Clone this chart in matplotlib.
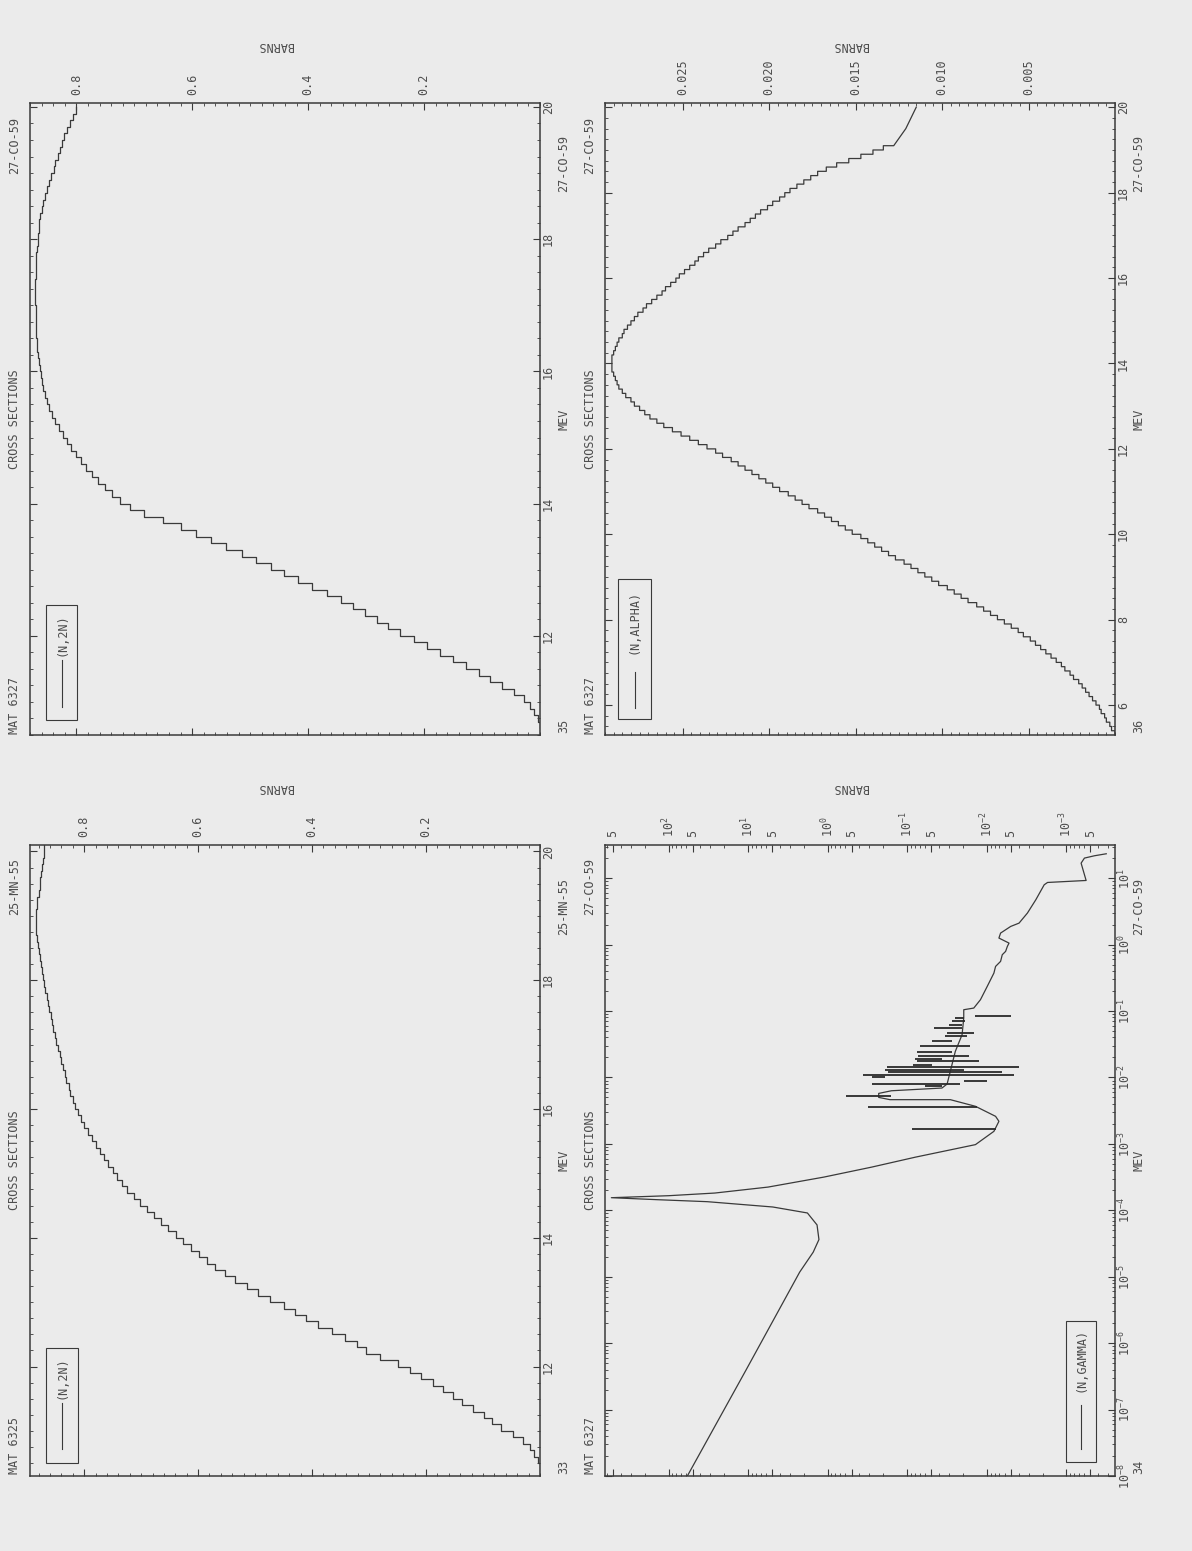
import numpy as np
import matplotlib
matplotlib.use("Agg")
import matplotlib.pyplot as plt
from matplotlib.ticker import FixedLocator, MultipleLocator, FuncFormatter, NullFormatter, LogLocator, FormatStrFormatter
from matplotlib.patches import Rectangle
from matplotlib.lines import Line2D

plt.rcParams['font.family'] = ['DejaVu Sans Mono']
plt.rcParams['mathtext.fontset'] = 'custom'
plt.rcParams['mathtext.rm'] = 'DejaVu Sans Mono'
plt.rcParams['mathtext.it'] = 'DejaVu Sans Mono'

W, H = 1192, 1551
PAPER = '#ebebeb'
INK = '#3a3a3a'
TXT = '#4d4d4d'
FS = 8.5

# ---- data (energies in MeV, cross sections in barns) ----
# group width of the stepped curves
GW = 0.1

# Co-59 (n,2n), groups starting at 10.6 MeV
co_2n_e0 = 10.6
co_2n = [0.0, 0.003, 0.010, 0.018, 0.027, 0.045, 0.065, 0.086, 0.106, 0.128,
         0.150, 0.172, 0.195, 0.218, 0.242, 0.262, 0.282, 0.302, 0.322, 0.344,
         0.368, 0.393, 0.418, 0.442, 0.465, 0.490, 0.515, 0.542, 0.568, 0.594,
         0.620, 0.650, 0.684, 0.708, 0.724, 0.738, 0.750, 0.762, 0.773, 0.783,
         0.792, 0.801, 0.809, 0.816, 0.823, 0.830, 0.836, 0.842, 0.847, 0.851,
         0.854, 0.857, 0.859, 0.861, 0.863, 0.865, 0.867, 0.868, 0.868, 0.869,
         0.869, 0.870, 0.870, 0.870, 0.871, 0.871, 0.871, 0.871, 0.870, 0.870,
         0.869, 0.869, 0.868, 0.867, 0.866, 0.865, 0.864, 0.862, 0.860, 0.857,
         0.854, 0.850, 0.847, 0.843, 0.839, 0.836, 0.832, 0.829, 0.825, 0.821,
         0.816, 0.811, 0.806, 0.801]

# Mn-55 (n,2n), groups starting at 10.3 MeV
mn_2n_e0 = 10.3
mn_2n = [0.0, 0.0, 0.003, 0.010, 0.018, 0.030, 0.047, 0.068, 0.085, 0.098,
         0.118, 0.137, 0.153, 0.170, 0.188, 0.208, 0.228, 0.250, 0.280, 0.305,
         0.322, 0.342, 0.365, 0.390, 0.410, 0.430, 0.450, 0.473, 0.495, 0.515,
         0.535, 0.553, 0.570, 0.585, 0.599, 0.613, 0.626, 0.639, 0.652, 0.665,
         0.677, 0.690, 0.702, 0.713, 0.724, 0.734, 0.742, 0.750, 0.758, 0.765,
         0.773, 0.780, 0.787, 0.794, 0.800, 0.806, 0.811, 0.816, 0.820, 0.824,
         0.827, 0.831, 0.834, 0.837, 0.840, 0.843, 0.846, 0.849, 0.852, 0.855,
         0.857, 0.859, 0.862, 0.864, 0.866, 0.868, 0.870, 0.872, 0.874, 0.876,
         0.878, 0.880, 0.881, 0.883, 0.884, 0.884, 0.884, 0.884, 0.883, 0.882,
         0.880, 0.878, 0.877, 0.875, 0.874, 0.872, 0.871, 0.870]

# Co-59 (n,alpha), groups starting at 5.3 MeV, then a smooth tail to 20 MeV
alpha_e0 = 5.3
alpha = [0.0000, 0.0002, 0.0003, 0.0005, 0.0006, 0.0008, 0.0009, 0.0011, 0.0013, 0.0015,
         0.0017, 0.0019, 0.0021, 0.0024, 0.0026, 0.0029, 0.0031, 0.0034, 0.0037, 0.0040,
         0.0043, 0.0046, 0.0049, 0.0053, 0.0056, 0.0060, 0.0064, 0.0068, 0.0072, 0.0076,
         0.0080, 0.0085, 0.0089, 0.0093, 0.0097, 0.0102, 0.0106, 0.0110, 0.0114, 0.0118,
         0.0122, 0.0127, 0.0131, 0.0135, 0.0139, 0.0143, 0.0147, 0.0152, 0.0156, 0.0160,
         0.0164, 0.0168, 0.0172, 0.0177, 0.0181, 0.0185, 0.0189, 0.0194, 0.0198, 0.0202,
         0.0206, 0.0210, 0.0214, 0.0218, 0.0222, 0.0227, 0.0231, 0.0236, 0.0241, 0.0246,
         0.0251, 0.0256, 0.0261, 0.0265, 0.0269, 0.0272, 0.0275, 0.0278, 0.0280, 0.0283,
         0.0285, 0.0287, 0.0288, 0.0289, 0.0290, 0.0291, 0.0291, 0.0291, 0.0291, 0.0290,
         0.0289, 0.0288, 0.0287, 0.0285, 0.0284, 0.0282, 0.0280, 0.0278, 0.0276, 0.0273,
         0.0271, 0.0268, 0.0265, 0.0262, 0.0260, 0.0257, 0.0254, 0.0252, 0.0249, 0.0246,
         0.0243, 0.0241, 0.0238, 0.0235, 0.0231, 0.0228, 0.0224, 0.0221, 0.0218, 0.0214,
         0.0211, 0.0208, 0.0205, 0.0201, 0.0198, 0.0194, 0.0191, 0.0188, 0.0184, 0.0180,
         0.0176, 0.0172, 0.0167, 0.0161, 0.0154, 0.0147, 0.0140, 0.0134]
alpha_tail_e = [19.1, 19.5, 20.0]
alpha_tail = [0.0128, 0.0121, 0.0115]

# Co-59 (n,gamma): log10(E/MeV), log10(sigma/b) of the smooth part
gam_loge = [-8.0, -6.41, -4.93, -4.63, -4.44, -4.22, -4.04, -3.95, -3.87, -3.84,
            -3.81, -3.78, -3.74, -3.65, -3.5, -3.35, -3.2, -3.1, -3.011, -2.811,
            -2.66, -2.585, -2.434, -2.334, -2.334, -2.30, -2.24, -2.20, -2.159, -2.098,
            -1.807, -1.607, -1.356, -1.105, -0.98, -0.955, -0.829, -0.629, -0.428, -0.328,
            -0.252, -0.152, -0.102, -0.027, 0.023, 0.099, 0.174, 0.274, 0.324, 0.475,
            0.676, 0.901, 0.936, 0.966, 1.227, 1.303, 1.338, 1.368]
gam_logs = [1.765, 1.03, 0.353, 0.183, 0.111, 0.135, 0.256, 0.691, 1.514, 2.143,
            2.72, 2.0, 1.42, 0.75, 0.05, -0.55, -1.1, -1.5, -1.856, -2.088,
            -2.151, -2.109, -1.856, -1.54, -0.781, -0.64, -0.64, -0.80, -1.435, -1.50,
            -1.561, -1.603, -1.688, -1.709, -1.709, -1.835, -1.919, -2.004, -2.088, -2.109,
            -2.172, -2.193, -2.235, -2.257, -2.278, -2.151, -2.172, -2.299, -2.404, -2.509,
            -2.615, -2.72, -2.762, -3.247, -3.184, -3.226, -3.352, -3.5]
# resolved resonances: log10 E, log10 sigma at peak, log10 sigma at low end
res_loge = [-1.070, -1.105, -1.155, -1.205, -1.256, -1.331, -1.381, -1.456, -1.531, -1.622,
            -1.672, -1.717, -1.757, -1.807, -1.848, -1.883, -1.918, -1.968, -1.998, -2.048,
            -2.098, -2.133, -2.274, -2.45, -2.77]
res_peak = [-1.856, -1.603, -1.561, -1.519, -1.329, -1.498, -1.477, -1.308, -1.161, -1.119,
            -1.14, -1.098, -1.119, -1.076, -0.739, -0.718, -0.760, -0.444, -0.55, -1.709,
            -0.55, -1.224, -0.234, -0.508, -1.055]
res_low = [-2.298, -1.709, -1.73, -1.688, -1.688, -1.835, -1.75, -1.561, -1.793, -1.561,
           -1.772, -1.435, -1.898, -1.308, -2.404, -1.709, -2.193, -2.341, -0.718, -2.004,
           -1.666, -1.435, -0.794, -1.877, -2.109]

fig = plt.figure(figsize=(W / 100, H / 100), dpi=100, facecolor=PAPER)


def put(x, y, s, rot=90):
    fig.text(x / W, 1 - y / H, s, rotation=rot, ha='center', va='center',
             fontsize=FS, color=TXT)


def add_panel(box):
    x0, y0, x1, y1 = box
    ax = fig.add_axes([x0 / W, 1 - y1 / H, (x1 - x0) / W, (y1 - y0) / H])
    ax.set_facecolor(PAPER)
    for s in ax.spines.values():
        s.set_linewidth(1.1)
        s.set_color(INK)
    ax.tick_params(which='both', direction='in', top=True, bottom=True, left=True, right=True,
                   labeltop=True, labelbottom=False, labelleft=False, labelright=True,
                   color=INK, labelcolor=TXT, labelsize=FS)
    ax.tick_params(which='major', length=5, width=0.8)
    ax.tick_params(which='minor', length=2.5, width=0.6)
    ax.tick_params(axis='x', labelrotation=90, pad=5.5)
    ax.tick_params(axis='y', labelrotation=90, pad=1.5)
    return ax


def fix_labels(ax):
    plt.setp(ax.get_yticklabels(), va='center')


def side_texts(box, tag, mat, num):
    x0, y0, x1, y1 = box
    put(x0 - 15, y0 + 42, tag)
    put(x0 - 15, (y0 + y1) / 2, 'CROSS SECTIONS')
    put(x0 - 15, y1 - 30, mat)
    put(x1 + 24, y0 + 61, tag)
    put(x1 + 24, (y0 + y1) / 2, 'MEV')
    put(x1 + 24, y1 - 9, num)
    put((x0 + x1) / 2 - 10, y0 - 57, 'BARNS', rot=180)


def legend_box(bx0, by0, bx1, by1, label, ty, ly0, ly1):
    fig.add_artist(Rectangle((bx0 / W, 1 - by1 / H), (bx1 - bx0) / W, (by1 - by0) / H,
                             transform=fig.transFigure, fill=False, ec=INK, lw=0.8))
    cx = (bx0 + bx1) / 2
    fig.add_artist(Line2D([cx / W, cx / W], [1 - ly0 / H, 1 - ly1 / H],
                          transform=fig.transFigure, color=INK, lw=0.8))
    put(cx, ty, label)


def step_path(e0, vals, width=GW):
    # vertical runs at each group value, horizontal jumps at group edges
    vals = np.asarray(vals)
    edges = e0 + width * np.arange(len(vals) + 1)
    return np.repeat(vals, 2), np.repeat(edges, 2)[1:-1]


def linear_panel(box, xs, ys, smax, emin, emax, sig_major, sig_minor, fmt, e_major):
    ax = add_panel(box)
    ax.plot(xs, ys, color=INK, lw=0.9)
    ax.set_xlim(smax, 0)
    ax.set_ylim(emin, emax)
    ax.xaxis.set_major_locator(FixedLocator(sig_major))
    ax.xaxis.set_minor_locator(MultipleLocator(sig_minor))
    ax.xaxis.set_major_formatter(FormatStrFormatter(fmt))
    ax.yaxis.set_major_locator(FixedLocator(e_major))
    ax.yaxis.set_minor_locator(MultipleLocator(0.25))
    ax.yaxis.set_major_formatter(FormatStrFormatter('%d'))
    fix_labels(ax)
    return ax


TL = (30, 103, 540, 735)
TR = (605, 103, 1115, 735)
BL = (30, 845, 540, 1476)
BR = (605, 845, 1115, 1476)

# Co-59 (n,2n)
xs, ys = step_path(co_2n_e0, co_2n)
linear_panel(TL, xs, ys, 0.88, 10.5, 20.06, [0.2, 0.4, 0.6, 0.8], 0.02, '%.1f',
             [12, 14, 16, 18, 20])
side_texts(TL, '27-CO-59', 'MAT 6327', '35')
legend_box(46, 605, 77, 720, '(N,2N)', 635, 660, 707)

# Mn-55 (n,2n)
xs, ys = step_path(mn_2n_e0, mn_2n)
linear_panel(BL, xs, ys, 0.895, 10.3, 20.1, [0.2, 0.4, 0.6, 0.8], 0.02, '%.1f',
             [12, 14, 16, 18, 20])
side_texts(BL, '25-MN-55', 'MAT 6325', '33')
legend_box(46, 1348, 78, 1463, '(N,2N)', 1378, 1403, 1449)

# Co-59 (n,alpha): stepped part joined to the smooth tail
xs, ys = step_path(alpha_e0, alpha)
xs = np.concatenate([xs, alpha_tail])
ys = np.concatenate([ys, alpha_tail_e])
linear_panel(TR, xs, ys, 0.0295, 5.3, 20.1,
             [0.005, 0.010, 0.015, 0.020, 0.025], 0.0005, '%.3f',
             [6, 8, 10, 12, 14, 16, 18, 20])
side_texts(TR, '27-CO-59', 'MAT 6327', '36')
legend_box(618, 579, 651, 719, '(N,ALPHA)', 622, 672, 708)

# Co-59 (n,gamma)
ax = add_panel(BR)
ax.set_xscale('log')
ax.set_yscale('log')
ax.plot(10 ** np.array(gam_logs), 10 ** np.array(gam_loge), color=INK, lw=0.9)
ax.hlines(10 ** np.array(res_loge), 10 ** np.array(res_low), 10 ** np.array(res_peak),
          color='#2a2a2a', lw=1.3)
ax.set_xlim(10 ** 2.80, 10 ** -3.61)
ax.set_ylim(1e-8, 10 ** 1.50)
sig_ticks = [5e2, 1e2, 5e1, 1e1, 5.0, 1.0, 0.5, 0.1, 0.05, 0.01, 5e-3, 1e-3, 5e-4]


def sig_fmt(v, pos):
    k = int(np.floor(np.log10(v) + 1e-9))
    if round(v / 10 ** k) == 5:
        return '5'
    return r'$10^{%d}$' % k


ax.xaxis.set_major_locator(FixedLocator(sig_ticks))
ax.xaxis.set_major_formatter(FuncFormatter(sig_fmt))
ax.xaxis.set_minor_locator(LogLocator(base=10, subs=(2, 3, 4, 6, 7, 8, 9), numticks=30))
ax.xaxis.set_minor_formatter(NullFormatter())
ax.yaxis.set_major_locator(FixedLocator([10.0 ** k for k in range(-8, 2)]))
ax.yaxis.set_major_formatter(FuncFormatter(lambda v, p: r'$10^{%d}$' % round(np.log10(v))))
ax.yaxis.set_minor_locator(LogLocator(base=10, subs=(2, 3, 4, 5, 6, 7, 8, 9), numticks=30))
ax.yaxis.set_minor_formatter(NullFormatter())
fix_labels(ax)
side_texts(BR, '27-CO-59', 'MAT 6327', '34')
legend_box(1066, 1321, 1096, 1462, '(N,GAMMA)', 1360, 1405, 1449)

fig.savefig('out.png', dpi=100, facecolor=PAPER)
